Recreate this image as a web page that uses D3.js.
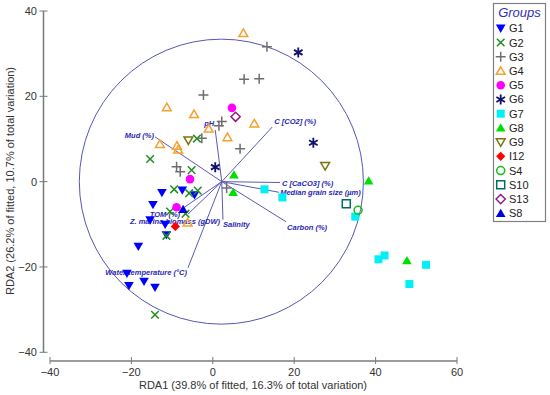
<!DOCTYPE html>
<html>
<head>
<meta charset="utf-8">
<script src="https://cdn.jsdelivr.net/npm/d3@7"></script>
<style>
  body { margin: 0; background: #fff; }
  svg { display: block; font-family: "Liberation Sans", Arial, sans-serif; }
</style>
</head>
<body>
<svg id="chart" width="550" height="395"></svg>
<script>
// Axis ticks
var xTicks = [-40, -20, 0, 20, 40, 60],
    yTicks = [-40, -20, 0, 20, 40];

// Legend groups (order as in the legend)
var groups = ['G1', 'G2', 'G3', 'G4', 'G5', 'G6', 'G7', 'G8', 'G9', 'I12', 'S4', 'S10', 'S13', 'S8'];

// Sample scores [RDA1, RDA2] per group
var G1 = [[-12.5, -2.6], [-7.5, -2.0], [-4.5, -3.1], [-14.7, -5.4], [-15.4, -9.0], [-11.7, -10.0],
          [-11.4, -12.5], [-18.3, -15.2], [-21.1, -21.5], [-20.6, -24.4], [-16.9, -23.4], [-14.2, -24.8]];
var G2 = [[-15.4, 5.3], [-3.9, 10.1], [-5.2, 2.7], [-9.5, -1.8], [-5.8, -2.7], [-3.7, -2.1],
          [-10.5, -7.0], [-6.7, -7.5], [-11.4, -12.7], [-14.2, -31.2]];
var G3 = [[13.3, 31.6], [7.7, 24.0], [11.4, 24.1], [-2.3, 20.3], [2.2, 14.1], [1.5, 13.1],
          [-2.7, 10.2], [6.7, 7.7], [-8.9, 3.5], [-8.0, 2.3], [3.4, -1.5]];
var G4 = [[7.5, 34.8], [-11.3, 17.4], [-4.6, 15.8], [10.2, 13.6], [-1.0, 12.4], [3.6, 10.4],
          [-13.0, 8.8], [-8.8, 8.4], [-8.5, 7.5], [-6.2, -9.6]];
var G5 = [[4.7, 17.3], [-5.6, 0.6], [-8.9, -6.0]];
var G6 = [[21.0, 30.3], [24.7, 9.1], [0.6, 3.4]];
var G7 = [[12.7, -1.8], [17.1, -3.7], [35.0, -8.2], [40.7, -18.2], [42.2, -17.3], [48.3, -24.0], [52.4, -19.5]];
var G8 = [[5.2, 1.6], [5.0, -2.5], [38.3, 0.2], [47.7, -18.5]];
var G9 = [[-6.0, 9.7], [27.6, 3.7]];
var I12 = [[-9.2, -10.5]];
var S4 = [[35.7, -6.7]];
var S10 = [[32.8, -5.2]];
var S13 = [[5.6, 15.2]];
var S8 = [[-7.3, -6.5]];

// Environmental vectors
var vectorNames = ['pH', 'C [CO2] (%)', 'Mud (%)', 'C [CaCO3] (%)', 'Median grain size (\u00b5m)',
                   'Carbon (%)', 'Salinity', 'TOM (%)', 'Z. marina biomass (gDW)', 'Water temperature (\u00b0C)'];
var vectorEnds = [[0.6, 12.1], [14.6, 12.8], [-14.2, 10.5], [16.5, -0.2], [16.3, -2.5],
                  [18.0, -9.4], [2.5, -8.9], [-7.3, -6.2], [-6.1, -7.6], [-6.1, -20.2]];
var vectorOrigin = [2.2, 0];
var circleCenter = [2.1, 0],
    circleRadius = [34.9, 33.4];

var axisX = 'RDA1 (39.8% of fitted, 16.3% of total variation)',
    axisY = 'RDA2 (26.2% of fitted, 10.7% of total variation)';

// Layout of vector labels: [dx, dy, anchor] relative to the vector tip
var labelPlace = [[-1, -4, 'end'], [2, -3, 'start'], [-1, 1, 'end'], [2, 3, 'start'], [1, 3, 'start'],
                  [1, 8, 'start'], [0, 7, 'start'], [-3, 9, 'end'], [-13, 10, 'middle'], [-1, 7, 'end']];

// Marker styles
var styles = {
    G1:  { shape: 'tridown', fill: '#0000ff', stroke: 'none' },
    G2:  { shape: 'cross',   fill: 'none',    stroke: '#1f8f1f' },
    G3:  { shape: 'plus',    fill: 'none',    stroke: '#6e6e6e' },
    G4:  { shape: 'triup',   fill: 'none',    stroke: '#f5a031' },
    G5:  { shape: 'circle',  fill: '#ff00ff', stroke: 'none' },
    G6:  { shape: 'star',    fill: 'none',    stroke: '#10106e' },
    G7:  { shape: 'square',  fill: '#00f0f8', stroke: 'none' },
    G8:  { shape: 'triup',   fill: '#00e000', stroke: 'none' },
    G9:  { shape: 'tridown', fill: 'none',    stroke: '#7a7410' },
    I12: { shape: 'diamond', fill: '#ff0000', stroke: 'none' },
    S4:  { shape: 'circle',  fill: 'none',    stroke: '#10c010' },
    S10: { shape: 'square',  fill: 'none',    stroke: '#006a6a' },
    S13: { shape: 'diamond', fill: 'none',    stroke: '#8c1a8c' },
    S8:  { shape: 'triup',   fill: '#0000dd', stroke: 'none' }
};
var groupData = { G1: G1, G2: G2, G3: G3, G4: G4, G5: G5, G6: G6, G7: G7, G8: G8, G9: G9,
                  I12: I12, S4: S4, S10: S10, S13: S13, S8: S8 };

var svg = d3.select('#chart');

var x = d3.scaleLinear().domain([-40, 60]).range([50, 457]),
    y = d3.scaleLinear().domain([-40, 40]).range([352.3, 11]);

/**
 * Marker path centred on 0,0
 */
function markerPath(shape, open) {
    var s = open ? 4.2 : 4.6;
    switch (shape) {
        case 'triup':
            return 'M0,' + (-s) + 'L' + (s * 1.05) + ',' + (s * 0.8) + 'L' + (-s * 1.05) + ',' + (s * 0.8) + 'Z';
        case 'tridown':
            return 'M0,' + s + 'L' + (s * 1.05) + ',' + (-s * 0.8) + 'L' + (-s * 1.05) + ',' + (-s * 0.8) + 'Z';
        case 'square':
            return 'M-4,-4H4V4H-4Z';
        case 'diamond':
            return 'M0,-4.6L4.6,0L0,4.6L-4.6,0Z';
        case 'circle':
            return d3.arc()({ innerRadius: 0, outerRadius: open ? 4 : 4.3, startAngle: 0, endAngle: 2 * Math.PI });
        case 'cross':
            return 'M-3.8,-3.8L3.8,3.8M-3.8,3.8L3.8,-3.8';
        case 'plus':
            return 'M-5,0H5M0,-5V5';
        case 'star':
            return 'M0,-5V5M-4.3,-2.5L4.3,2.5M-4.3,2.5L4.3,-2.5';
    }
}

function drawMarker(sel, name) {
    var st = styles[name];
    var open = st.fill === 'none';
    sel.append('path')
        .attr('d', markerPath(st.shape, open))
        .attr('fill', st.fill)
        .attr('stroke', st.stroke)
        .attr('stroke-width', st.shape === 'star' ? 1.8 : 1.5);
}

// Axes
var axisCol = '#7a7a7a';
svg.append('line').attr('x1', 43.5).attr('x2', 43.5).attr('y1', y(40)).attr('y2', y(-40))
    .attr('stroke', axisCol).attr('stroke-width', 1.5);
svg.append('line').attr('x1', x(-40)).attr('x2', x(60)).attr('y1', 361).attr('y2', 361)
    .attr('stroke', axisCol).attr('stroke-width', 1.5);

yTicks.forEach(function(t) {
    svg.append('line').attr('x1', 39.5).attr('x2', 47.5).attr('y1', y(t)).attr('y2', y(t))
        .attr('stroke', axisCol).attr('stroke-width', 1);
    svg.append('text').attr('x', 37).attr('y', y(t) + 4).attr('text-anchor', 'end')
        .attr('font-size', 11).attr('fill', '#333').text(t < 0 ? '\u2212' + Math.abs(t) : t);
});
xTicks.forEach(function(t) {
    svg.append('line').attr('x1', x(t)).attr('x2', x(t)).attr('y1', 357).attr('y2', 364)
        .attr('stroke', axisCol).attr('stroke-width', 1);
    svg.append('text').attr('x', x(t)).attr('y', 376).attr('text-anchor', 'middle')
        .attr('font-size', 11).attr('fill', '#333').text(t < 0 ? '\u2212' + Math.abs(t) : t);
});

svg.append('text').attr('x', 253).attr('y', 389).attr('text-anchor', 'middle')
    .attr('font-size', 11).attr('fill', '#333').text(axisX);
svg.append('text').attr('transform', 'translate(14,181) rotate(-90)').attr('text-anchor', 'middle')
    .attr('font-size', 11).attr('fill', '#333').text(axisY);

// Correlation circle
svg.append('ellipse')
    .attr('cx', x(circleCenter[0])).attr('cy', y(circleCenter[1]))
    .attr('rx', x(circleCenter[0] + circleRadius[0]) - x(circleCenter[0]))
    .attr('ry', y(circleCenter[1]) - y(circleCenter[1] + circleRadius[1]))
    .attr('fill', 'none').attr('stroke', '#5656b4').attr('stroke-width', 1);

// Vectors
var vec = svg.append('g');
vectorEnds.forEach(function(e, i) {
    vec.append('line')
        .attr('x1', x(vectorOrigin[0])).attr('y1', y(vectorOrigin[1]))
        .attr('x2', x(e[0])).attr('y2', y(e[1]))
        .attr('stroke', '#5a5ab4').attr('stroke-width', 1);
});
vectorEnds.forEach(function(e, i) {
    var p = labelPlace[i];
    vec.append('text')
        .attr('x', x(e[0]) + p[0]).attr('y', y(e[1]) + p[1])
        .attr('text-anchor', p[2])
        .attr('font-size', 7.5).attr('font-weight', 'bold').attr('font-style', 'italic')
        .attr('fill', '#2828b4')
        .text(vectorNames[i]);
});

// Points
var pts = svg.append('g');
groups.forEach(function(name) {
    groupData[name].forEach(function(d) {
        var g = pts.append('g').attr('transform', 'translate(' + x(d[0]) + ',' + y(d[1]) + ')');
        drawMarker(g, name);
    });
});

// Legend
var leg = svg.append('g');
leg.append('rect').attr('x', 493.5).attr('y', 3.5).attr('width', 52).attr('height', 218)
    .attr('fill', '#fff').attr('stroke', '#808080').attr('stroke-width', 1.2);
leg.append('text').attr('x', 519.5).attr('y', 17).attr('text-anchor', 'middle')
    .attr('font-size', 13).attr('font-style', 'italic').attr('fill', '#2e2eb8').text('Groups');
groups.forEach(function(name, i) {
    var yy = 28.3 + i * 14.23;
    var g = leg.append('g').attr('transform', 'translate(500.7,' + yy + ')');
    drawMarker(g, name);
    leg.append('text').attr('x', 509).attr('y', yy + 4).attr('font-size', 11)
        .attr('fill', '#222').text(name);
});
</script>
</body>
</html>
